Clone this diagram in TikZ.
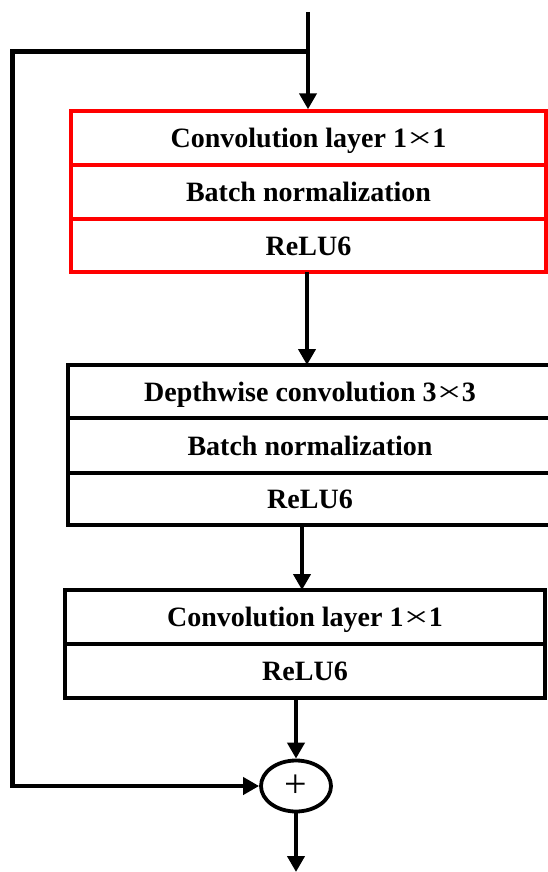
\documentclass[tikz,border=0pt]{standalone}
\usepackage{fontspec}
\setmainfont{Liberation Serif}
\usetikzlibrary{arrows.meta,shapes.geometric,calc}

% wide multiplication sign used in the kernel sizes
\newcommand{\kx}{{\mdseries\scalebox{1.6}[1]{×}}}

\tikzset{
  layer/.style={draw, rectangle, inner sep=0pt, line width=3.8pt,
    text height=19pt, text depth=0pt,
    font=\fontsize{28}{30}\selectfont\bfseries},
  redlayer/.style={layer, draw={rgb,255:red,255;green,0;blue,0}, line width=3.4pt},
  flow/.style={line width=4.6pt, -{Triangle[width=17pt,length=16pt]}},
  wire/.style={line width=4.6pt},
  adder/.style={draw, ellipse, line width=3.8pt, inner sep=0pt,
    minimum width=70pt, minimum height=51pt,
    font=\fontsize{40}{40}\selectfont}
}

\begin{document}
\begin{tikzpicture}[x=1pt, y=-1pt]
  \clip (0,0) rectangle (548,872);
  \useasboundingbox (0,0) rectangle (548,872);

  % expansion block
  \node[redlayer, minimum width=475pt, minimum height=54pt] (a1) at (308.5,138) {Convolution layer 1\kx1};
  \node[redlayer, minimum width=475pt, minimum height=54pt] (a2) at (308.5,192) {Batch normalization};
  \node[redlayer, minimum width=475pt, minimum height=53pt] (a3) at (308.5,245.5) {ReLU6};

  % depthwise block
  \node[layer, minimum width=484pt, minimum height=53pt] (b1) at (310,391.5) {Depthwise convolution 3\kx3};
  \node[layer, minimum width=484pt, minimum height=55pt] (b2) at (310,445.5) {Batch normalization};
  \node[layer, minimum width=484pt, minimum height=52pt] (b3) at (310,499) {ReLU6};

  % projection block
  \node[layer, minimum width=480pt, minimum height=54pt] (c1) at (305,617) {Convolution layer 1\kx1};
  \node[layer, minimum width=480pt, minimum height=54pt] (c2) at (305,671) {ReLU6};

  % residual sum
  \node[adder] (sum) at (296,786) {+};

  % input, shortcut and output points
  \coordinate (in) at (308,12);
  \coordinate (split) at (308,51.5);
  \coordinate (k1) at (12.5,51.5);
  \coordinate (k2) at (12.5,786);
  \coordinate (out) at (296,872);

  \draw[flow] (in) -- (in |- a1.north);
  \draw[wire, line cap=rect] (split) -- (k1) -- (k2);
  \draw[flow] (k2) -- (sum.west);
  \draw[flow] (307,272) -- (307,365);
  \draw[flow] (302,525) -- (302,590);
  \draw[flow] (sum.north |- c2.south) -- (sum.north);
  \draw[flow] (sum.south) -- (out);
\end{tikzpicture}
\end{document}
